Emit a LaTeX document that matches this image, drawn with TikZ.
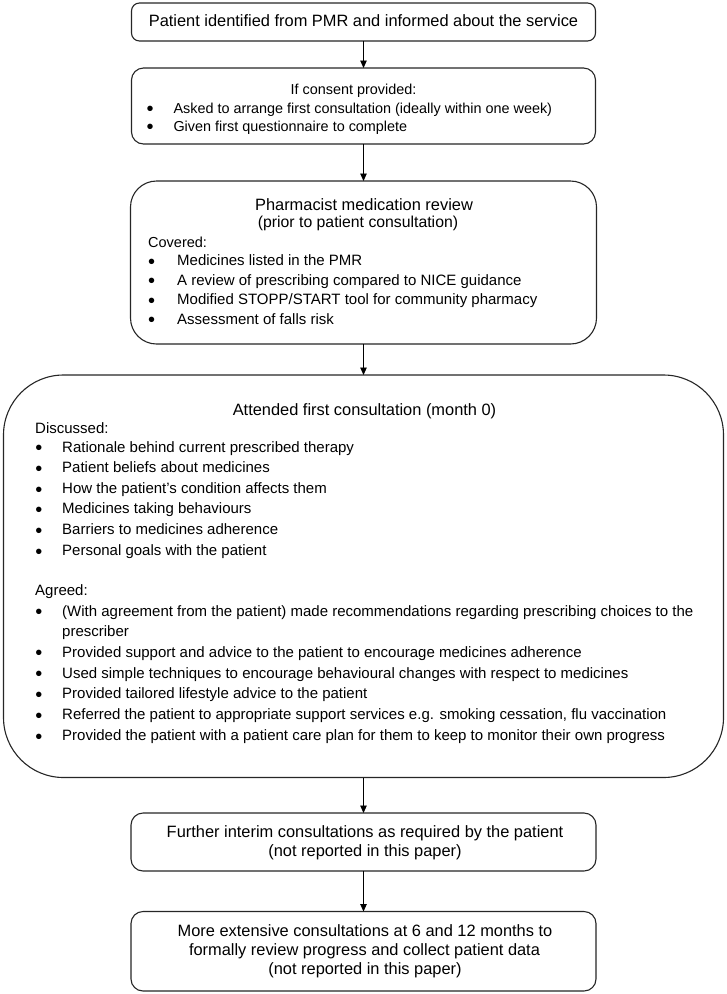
\documentclass[tikz,border=0pt]{standalone}
\usepackage{fontspec}
\setmainfont{Liberation Sans}
\usetikzlibrary{arrows.meta}
\newcommand{\bdot}{\smash{•}}
\begin{document}
\begin{tikzpicture}[x=1pt,y=-1pt,
  box/.style={draw=black!85, line width=1.1pt, inner sep=0pt, outer sep=0pt, fill=white},
  ttl/.style={font=\fontsize{16.4}{19}\selectfont, anchor=base, inner sep=0pt},
  sub/.style={font=\fontsize{15.8}{18}\selectfont, anchor=base, inner sep=0pt},
  itm/.style={font=\fontsize{15}{18}\selectfont, anchor=base west, inner sep=0pt},
  sml/.style={font=\fontsize{14.4}{17}\selectfont, anchor=base west, inner sep=0pt},
  smlb/.style={font=\fontsize{14.4}{17}\selectfont, anchor=base, inner sep=0pt},
  bul/.style={font=\fontsize{20}{20}\selectfont, anchor=base, inner sep=0pt, yshift=-2.8pt},
  arr/.style={-{Triangle[length=7.5pt,width=6.5pt]}, line width=0.9pt, black}]
\useasboundingbox (0,0) rectangle (727,994);

% boxes
\node[box, rounded corners=8pt,  minimum width=464pt, minimum height=38pt]    (b1) at (363.5,22) {};
\node[box, rounded corners=12pt, minimum width=464pt, minimum height=76pt]    (b2) at (363.5,106) {};
\node[box, rounded corners=26pt, minimum width=466pt, minimum height=163pt]   (b3) at (363.5,262.5) {};
\node[box, rounded corners=60pt, minimum width=720pt, minimum height=402.5pt] (b4) at (363.5,576.25) {};
\node[box, rounded corners=12pt, minimum width=465pt, minimum height=58pt]    (b5) at (363.5,842) {};
\node[box, rounded corners=12pt, minimum width=465pt, minimum height=79.5pt]  (b6) at (363.5,951.25) {};

% connectors
\draw[arr] (b1.south) -- (b2.north);
\draw[arr] (b2.south) -- (b3.north);
\draw[arr] (b3.south) -- (b4.north);
\draw[arr] (b4.south) -- (b5.north);
\draw[arr] (b5.south) -- (b6.north);

% box 1
\node[ttl] (t1) at (363.5,26) {Patient identified from PMR and informed about the service};

% box 2
\node[smlb] (t2) at (353.5,94) {If consent provided:};
\node[bul] (t2ad) at (150,113) {\bdot};
\node[sml]  (t2a)  at (173.3,113) {Asked to arrange first consultation (ideally within one week)};
\node[bul] (t2bd) at (150,131) {\bdot};
\node[sml]  (t2b)  at (173.3,131) {Given first questionnaire to complete};

% box 3
\node[ttl] (t3) at (364,210) {Pharmacist medication review};
\node[sub] (t3s) at (358,227) {(prior to patient consultation)};
\node[font=\fontsize{14.5}{17}\selectfont, anchor=base west, inner sep=0pt] (t3c) at (148,247.5) {Covered:};
\node[bul] (t3ad) at (151.5,265.5) {\bdot};
\node[itm]  (t3a)  at (177,265.5) {Medicines listed in the PMR};
\node[bul] (t3bd) at (151.5,285) {\bdot};
\node[itm]  (t3b)  at (177,285) {A review of prescribing compared to NICE guidance};
\node[bul] (t3cd) at (151.5,304.5) {\bdot};
\node[itm]  (t3cc) at (177,304.5) {Modified STOPP/START tool for community pharmacy};
\node[bul] (t3dd) at (151.5,324) {\bdot};
\node[itm]  (t3d)  at (177,324) {Assessment of falls risk};

% box 4
\node[ttl] (t4) at (364.5,415.5) {Attended first consultation (month 0)};
\node[itm] (t4h1) at (35,433.5) {Discussed:};
\node[bul] (d1d) at (39,452) {\bdot};   \node[itm] (d1) at (62,452) {Rationale behind current prescribed therapy};
\node[bul] (d2d) at (39,472.5) {\bdot}; \node[itm] (d2) at (62,472.5) {Patient beliefs about medicines};
\node[bul] (d3d) at (39,493.5) {\bdot}; \node[itm] (d3) at (62,493.5) {How the patient’s condition affects them};
\node[bul] (d4d) at (39,513.5) {\bdot}; \node[itm] (d4) at (62,513.5) {Medicines taking behaviours};
\node[bul] (d5d) at (39,534.5) {\bdot}; \node[itm] (d5) at (62,534.5) {Barriers to medicines adherence};
\node[bul] (d6d) at (39,555.5) {\bdot}; \node[itm] (d6) at (62,555.5) {Personal goals with the patient};
\node[itm] (t4h2) at (35,595) {Agreed:};
\node[bul] (a1d) at (39,616) {\bdot};   \node[itm] (a1) at (62,616) {(With agreement from the patient) made recommendations regarding prescribing choices to the};
\node[itm] (a1b) at (62,636) {prescriber};
\node[bul] (a2d) at (39,657) {\bdot};   \node[itm] (a2) at (62,657) {Provided support and advice to the patient to encourage medicines adherence};
\node[bul] (a3d) at (39,678) {\bdot};   \node[itm] (a3) at (62,678) {Used simple techniques to encourage behavioural changes with respect to medicines};
\node[bul] (a4d) at (39,698.5) {\bdot}; \node[itm] (a4) at (62,698.5) {Provided tailored lifestyle advice to the patient};
\node[bul] (a5d) at (39,719.5) {\bdot}; \node[itm] (a5) at (62,719.5) {Referred the patient to appropriate support services e.g. smoking cessation, flu vaccination};
\node[bul] (a6d) at (39,740.5) {\bdot}; \node[itm] (a6) at (62,740.5) {Provided the patient with a patient care plan for them to keep to monitor their own progress};

% box 5
\node[ttl] (t5a) at (365,837.5) {Further interim consultations as required by the patient};
\node[ttl] (t5b) at (365,856.5) {(not reported in this paper)};

% box 6
\node[ttl] (t6a) at (365,936.5) {More extensive consultations at 6 and 12 months to};
\node[ttl] (t6b) at (364.5,955.5) {formally review progress and collect patient data};
\node[ttl] (t6c) at (365,974.5) {(not reported in this paper)};
\end{tikzpicture}
\end{document}
